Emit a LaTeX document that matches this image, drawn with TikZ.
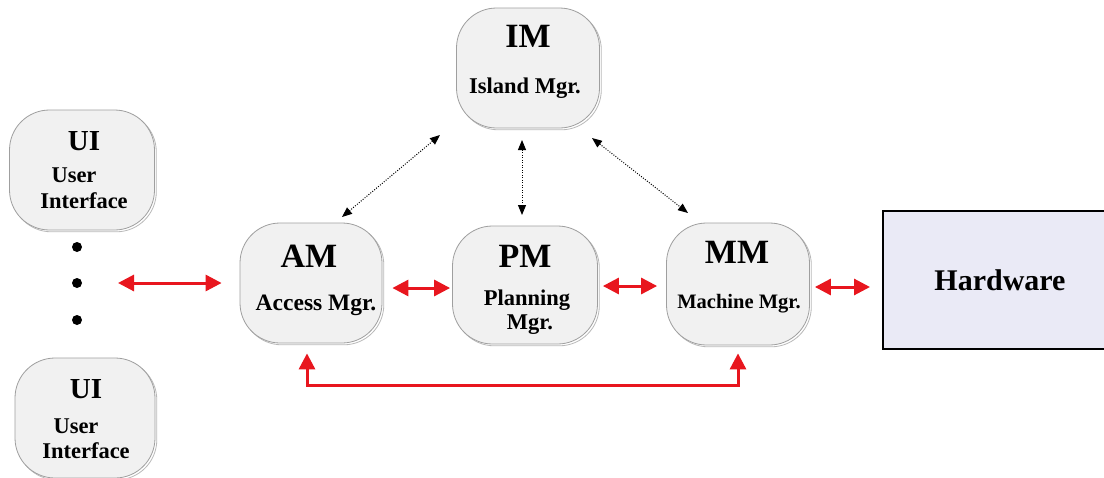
\documentclass[tikz,border=0pt]{standalone}
\usepackage{fontspec}
\setmainfont{Liberation Serif}
\usetikzlibrary{arrows.meta,calc}
\definecolor{arrred}{RGB}{232,22,30}
\definecolor{boxfill}{RGB}{241,241,241}
\definecolor{hwfill}{RGB}{234,234,246}
\tikzset{
  mgrbox/.style={draw=gray!75, line width=0.8pt, fill=boxfill, rounded corners=40pt, inner sep=0pt,
    preaction={draw=gray!55, line width=0.8pt, transform canvas={xshift=1.8pt,yshift=-1.8pt}}},
  bigtxt/.style={font=\bfseries\fontsize{34}{36}\selectfont, inner sep=0pt, anchor=base},
  uitxt/.style={font=\bfseries\fontsize{29}{31}\selectfont, inner sep=0pt, anchor=base},
  smalltxt/.style={font=\bfseries\fontsize{22.5}{24}\selectfont, inner sep=0pt, anchor=base},
  hwtxt/.style={font=\bfseries\fontsize{30}{32}\selectfont, inner sep=0pt, anchor=base},
  dotnode/.style={circle, fill=black, minimum size=10pt, inner sep=0pt},
  redarr/.style={draw=arrred, line width=3pt, {Triangle[length=16pt,width=16pt]}-{Triangle[length=16pt,width=16pt]}},
  dotarr/.style={draw=black, line width=1pt, dash pattern=on 1pt off 1.5pt, {Triangle[length=10pt,width=8pt]}-{Triangle[length=10pt,width=8pt]}},
  hwline/.style={draw=black, line width=1.6pt}
}
\begin{document}
\begin{tikzpicture}[x=1pt,y=-1pt]
\useasboundingbox (0,0) rectangle (1104,477);
\fill[white] (0,0) rectangle (1104,477);

% manager boxes
\node[mgrbox, minimum width=143pt, minimum height=120pt] (im) at (528,68) {};
\node[mgrbox, minimum width=145pt, minimum height=120pt] (ui1) at (82,170) {};
\node[mgrbox, minimum width=140pt, minimum height=120pt] (ui2) at (85,418) {};
\node[mgrbox, minimum width=142pt, minimum height=120pt] (am) at (311,283) {};
\node[mgrbox, minimum width=145pt, minimum height=118pt] (pm) at (525,285) {};
\node[mgrbox, minimum width=143pt, minimum height=122pt] (mm) at (738,284) {};

% hardware
\node[fill=hwfill, anchor=west, minimum width=221pt, minimum height=138pt, inner sep=0pt] (hw) at (883,280) {};
\draw[hwline] (hw.north east) -- (hw.north west) -- (hw.south west) -- (hw.south east);

% texts
\node[bigtxt] (imt) at (528,47) {IM};
\node[smalltxt] (imt2) at (525,93) {Island Mgr.};
\node[uitxt] (ui1t) at (84,150) {UI};
\node[smalltxt] (ui1t2) at (74,182) {User};
\node[smalltxt] (ui1t3) at (84,208) {Interface};
\node[uitxt] (ui2t) at (86,398) {UI};
\node[smalltxt] (ui2t2) at (76,433) {User};
\node[smalltxt] (ui2t3) at (86,458) {Interface};
\node[bigtxt] (amt) at (309,267) {AM};
\node[font=\bfseries\fontsize{23.5}{25}\selectfont, inner sep=0pt, anchor=base] (amt2) at (316,310) {Access Mgr.};
\node[bigtxt] (pmt) at (525,267) {PM};
\node[smalltxt] (pmt2) at (527,305) {Planning};
\node[smalltxt] (pmt3) at (530,329) {Mgr.};
\node[bigtxt] (mmt) at (737,263) {MM};
\node[font=\bfseries\fontsize{20.5}{22}\selectfont, inner sep=0pt, anchor=base] (mmt2) at (739,308) {Machine Mgr.};
\node[hwtxt] (hwt) at (1000,290) {Hardware};

% dots
\node[dotnode] (dot1) at (77,247) {};
\node[dotnode] (dot2) at (77,283) {};
\node[dotnode] (dot3) at (77,320) {};

% red connectors
\draw[redarr] ($(dot2.center)+(41,0)$) -- ($(am.west)+(-18,0)$);
\draw[redarr] ($(am.east)+(10,5)$) -- ($(pm.west)+(-2,3)$);
\draw[redarr] ($(pm.east)+(5,1)$) -- ($(mm.west)+(-9,2)$);
\draw[redarr] ($(mm.east)+(5,3)$) -- ($(hw.west)+(-13,7)$);

\coordinate (ab) at ($(am.south)+(-4,10)$);
\coordinate (mb) at ($(mm.south)+(0,8)$);
\coordinate (botline) at (0,385);
\draw[redarr] (ab) -- (ab |- botline) -- (mb |- botline) -- (mb);

% dotted connectors
\draw[dotarr] ($(im.center)+(-88,67)$) -- ($(am.center)+(31,-66)$);
\draw[dotarr] ($(im.center)+(-6,72)$) -- ($(pm.center)+(-3,-70)$);
\draw[dotarr] ($(im.center)+(64,70)$) -- ($(mm.center)+(-50,-71)$);
\end{tikzpicture}
\end{document}
